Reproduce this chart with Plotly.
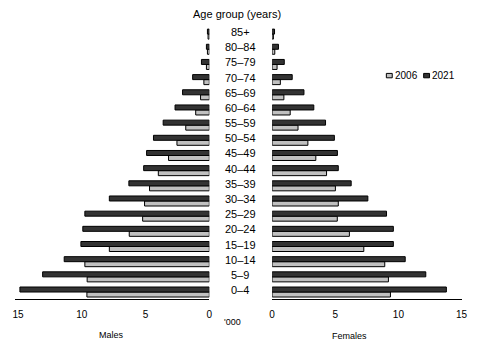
import plotly.graph_objects as go

age_groups = ["0–4", "5–9", "10–14", "15–19", "20–24", "25–29", "30–34", "35–39",
              "40–44", "45–49", "50–54", "55–59", "60–64", "65–69", "70–74",
              "75–79", "80–84", "85+"]
years = ["2006", "2021"]

males_2006 = [9.6, 9.58, 9.76, 7.84, 6.28, 5.23, 5.08, 4.69, 4.0, 3.2, 2.54, 1.85,
              1.07, 0.69, 0.43, 0.23, 0.15, 0.1]
males_2021 = [14.85, 13.07, 11.38, 10.07, 9.92, 9.76, 7.84, 6.31, 5.15, 4.92, 4.38,
              3.62, 2.69, 2.1, 1.31, 0.62, 0.23, 0.15]
females_2006 = [9.37, 9.21, 8.92, 7.26, 6.12, 5.16, 5.24, 5.01, 4.31, 3.46, 2.83,
                2.05, 1.43, 0.93, 0.65, 0.39, 0.21, 0.1]
females_2021 = [13.8, 12.17, 10.54, 9.6, 9.6, 9.06, 7.58, 6.26, 5.24, 5.17, 4.93,
                4.23, 3.3, 2.52, 1.59, 0.96, 0.5, 0.19]

x_ticks = [0, 5, 10, 15]

light = "#c0c0c0"
dark = "#333333"
font = "Liberation Sans, Arial, sans-serif"

W, H = 479, 349
top, bottom = 24.8, 299.3

fig = go.Figure()
for vals, name, col in [(males_2006, years[0], light), (males_2021, years[1], dark)]:
    fig.add_trace(go.Bar(x=vals, y=age_groups, orientation="h", name=name,
                         marker=dict(color=col, line=dict(color="black", width=1)),
                         xaxis="x", yaxis="y", showlegend=False, hoverinfo="skip"))
for vals, name, col in [(females_2006, years[0], light), (females_2021, years[1], dark)]:
    fig.add_trace(go.Bar(x=vals, y=age_groups, orientation="h", name=name,
                         marker=dict(color=col, line=dict(color="black", width=1)),
                         xaxis="x2", yaxis="y2", showlegend=False, hoverinfo="skip"))

axis_common = dict(showgrid=False, zeroline=False, showline=True, linecolor="black",
                   linewidth=1, ticks="", tickvals=x_ticks,
                   ticktext=[str(v) for v in x_ticks],
                   tickfont=dict(family=font, size=10, color="black"),
                   ticklabelstandoff=6, fixedrange=True)
yaxis_common = dict(type="category", categoryorder="array", categoryarray=age_groups,
                    range=[-0.46, 17.6], showticklabels=False, showgrid=False,
                    zeroline=False, showline=False, ticks="")

fig.update_layout(
    width=W, height=H,
    margin=dict(l=0, r=0, t=top, b=H - bottom, pad=0),
    paper_bgcolor="white", plot_bgcolor="white",
    barmode="group", bargap=0.34, bargroupgap=0,
    xaxis=dict(domain=[12.7 / W, 210.3 / W], range=[15.2, 0], anchor="y", **axis_common),
    xaxis2=dict(domain=[274.3 / W, 467.3 / W], range=[0, 15.0], anchor="y2", **axis_common),
    yaxis=dict(anchor="x", **yaxis_common),
    yaxis2=dict(anchor="x2", **yaxis_common),
    showlegend=False,
    font=dict(family=font, color="black"),
)

ph = bottom - top


def py(Y):
    return (bottom - Y) / ph


annotations = []
for ag in age_groups:
    annotations.append(dict(text=ag, x=242 / W, xref="paper", y=ag, yref="y",
                            showarrow=False, xanchor="center", yanchor="middle",
                            yshift=2, font=dict(family=font, size=11)))
annotations += [
    dict(text="Age group (years)", x=238.3 / W, y=py(13.3), xref="paper", yref="paper",
         showarrow=False, xanchor="center", yanchor="middle", font=dict(family=font, size=11)),
    dict(text="'000", x=234 / W, y=py(322.7), xref="paper", yref="paper",
         showarrow=False, xanchor="center", yanchor="middle", font=dict(family=font, size=9)),
    dict(text="Males", x=110.8 / W, y=py(335.7), xref="paper", yref="paper",
         showarrow=False, xanchor="center", yanchor="middle", font=dict(family=font, size=9)),
    dict(text="Females", x=353 / W, y=py(336), xref="paper", yref="paper",
         showarrow=False, xanchor="center", yanchor="middle", font=dict(family=font, size=9)),
]

# legend
legend_items = [(years[0], light, 390.7), (years[1], dark, 428.7)]
shapes = []
for name, col, x0 in legend_items:
    shapes.append(dict(type="rect", xref="paper", yref="paper",
                       x0=x0 / W, x1=(x0 + 6) / W, y0=py(77.7), y1=py(73.3),
                       fillcolor=col, line=dict(color="black", width=1)))
    annotations.append(dict(text=name, x=(x0 + 6.5) / W, y=py(75.5), xref="paper",
                            yref="paper", showarrow=False, xanchor="left",
                            yanchor="middle", font=dict(family=font, size=10)))

fig.update_layout(annotations=annotations, shapes=shapes)

fig.write_html("out.html")
